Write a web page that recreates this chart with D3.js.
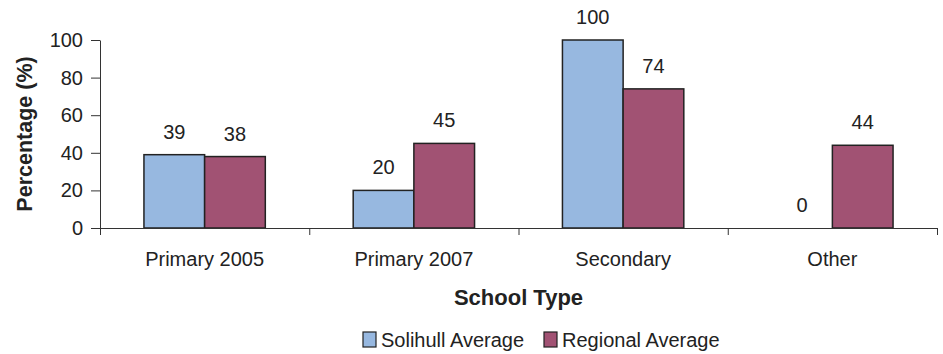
<!DOCTYPE html>
<html>
<head>
<meta charset="utf-8">
<script src="https://cdn.jsdelivr.net/npm/d3@7"></script>
<style>
  html, body { margin: 0; padding: 0; background: #fff; }
  svg { display: block; font-family: "Liberation Sans", Arial, sans-serif; }
</style>
</head>
<body>
<svg id="chart" width="943" height="354"></svg>
<script>
// School types and the two series compared for each
const categories = ["Primary 2005", "Primary 2007", "Secondary", "Other"];
const seriesNames = ["Solihull Average", "Regional Average"];
const solihull = [39, 20, 100, 0];
const regional = [38, 45, 74, 44];
const yTicks = [0, 20, 40, 60, 80, 100];
const colors = ["#97b8e0", "#a15273"];

const svg = d3.select("#chart");
const plot = { left: 100, right: 937, top: 40, bottom: 228 };

const x = d3.scaleBand().domain(categories).range([plot.left, plot.right])
  .paddingInner(0.42).paddingOuter(0.21);
const xs = d3.scaleBand().domain(seriesNames).range([0, x.bandwidth()]);
const y = d3.scaleLinear().domain([0, 100]).range([plot.bottom, plot.top]);

const rows = categories.map((c, i) => ({
  cat: c,
  values: [
    { s: seriesNames[0], v: solihull[i] },
    { s: seriesNames[1], v: regional[i] }
  ]
}));

// Bars
const groups = svg.append("g").selectAll("g").data(rows).join("g")
  .attr("transform", d => `translate(${x(d.cat)},0)`);

groups.selectAll("rect").data(d => d.values.filter(e => e.v > 0)).join("rect")
  .attr("x", d => xs(d.s))
  .attr("y", d => y(d.v))
  .attr("width", xs.bandwidth())
  .attr("height", d => y(0) - y(d.v))
  .attr("fill", d => colors[seriesNames.indexOf(d.s)])
  .attr("stroke", "#222")
  .attr("stroke-width", 1.5);

// Value labels
groups.selectAll("text").data(d => d.values).join("text")
  .attr("x", d => xs(d.s) + xs.bandwidth() / 2)
  .attr("y", d => y(d.v) - 16)
  .attr("text-anchor", "middle")
  .attr("font-size", 20)
  .attr("fill", "#222")
  .text(d => d.v);

// Y axis
const yAxis = svg.append("g").attr("transform", `translate(${plot.left},0)`)
  .call(d3.axisLeft(y).tickValues(yTicks).tickSize(9).tickSizeOuter(0).tickPadding(8));
yAxis.select(".domain").attr("stroke", "#333");
yAxis.selectAll(".tick line").attr("stroke", "#333");
yAxis.selectAll(".tick text").attr("font-size", 20).attr("fill", "#222")
  .attr("font-family", "Liberation Sans, Arial, sans-serif");

// X axis: category separators as ticks, labels centred in each band
const xBoundary = d3.scaleLinear().domain([0, categories.length]).range([plot.left, plot.right]);
const xAxis = svg.append("g").attr("transform", `translate(0,${plot.bottom})`)
  .call(d3.axisBottom(xBoundary).tickValues(d3.range(categories.length + 1))
    .tickSize(7).tickSizeOuter(0).tickFormat(""));
xAxis.select(".domain").attr("stroke", "#333");
xAxis.selectAll(".tick line").attr("stroke", "#333");

svg.append("g").selectAll("text").data(categories).join("text")
  .attr("x", d => x(d) + x.bandwidth() / 2)
  .attr("y", 266)
  .attr("text-anchor", "middle")
  .attr("font-size", 20)
  .attr("fill", "#222")
  .text(d => d);

// Axis titles
svg.append("text")
  .attr("x", (plot.left + plot.right) / 2)
  .attr("y", 305)
  .attr("text-anchor", "middle")
  .attr("font-size", 22)
  .attr("font-weight", "bold")
  .attr("fill", "#222")
  .text("School Type");

svg.append("text")
  .attr("transform", `translate(32,${(plot.top + plot.bottom) / 2}) rotate(-90)`)
  .attr("text-anchor", "middle")
  .attr("font-size", 21.5)
  .attr("font-weight", "bold")
  .attr("fill", "#222")
  .text("Percentage (%)");

// Legend
const legendX = [363, 544];
const legend = svg.append("g").selectAll("g").data(seriesNames).join("g")
  .attr("transform", (d, i) => `translate(${legendX[i]},332)`);
legend.append("rect")
  .attr("width", 13).attr("height", 15)
  .attr("fill", (d, i) => colors[i])
  .attr("stroke", "#222").attr("stroke-width", 1.2);
legend.append("text")
  .attr("x", 18).attr("y", 14.5)
  .attr("font-size", 20)
  .attr("fill", "#222")
  .text(d => d);
</script>
</body>
</html>
